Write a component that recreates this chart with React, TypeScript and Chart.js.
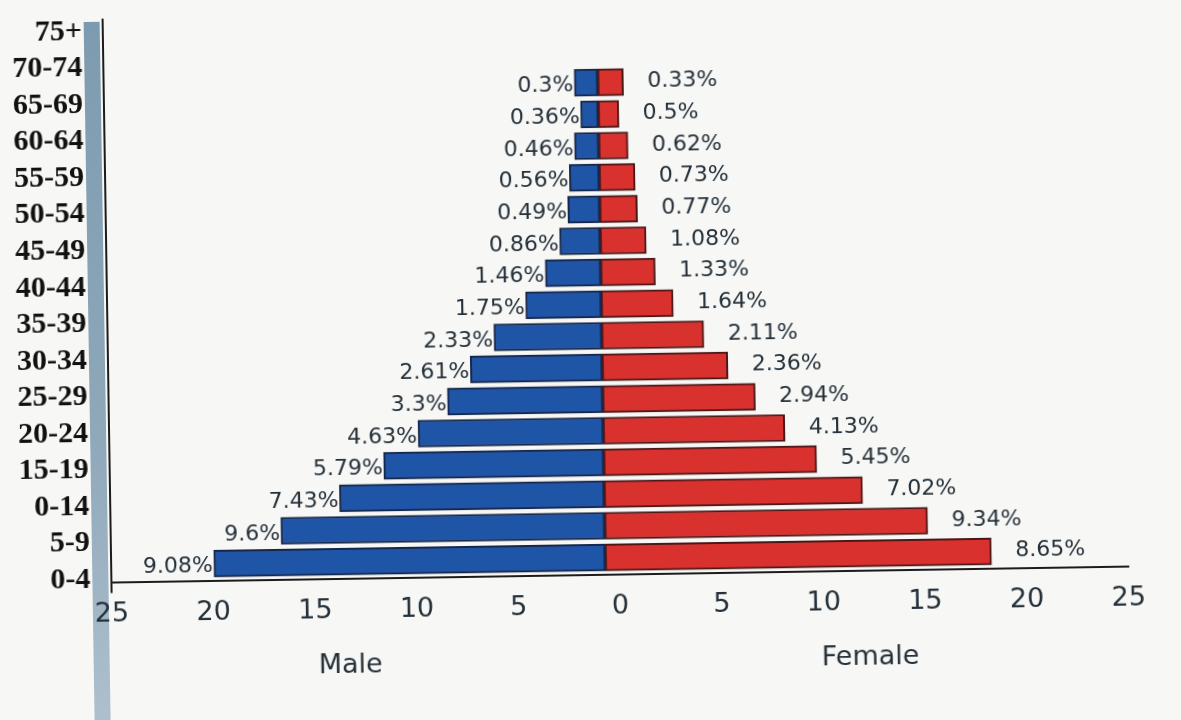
import React, { useEffect, useRef } from 'react';
import { Chart, registerables } from 'chart.js';

Chart.register(...registerables);

// Age groups, listed top to bottom as printed on the left axis
const AGE_GROUPS = ['75+', '70-74', '65-69', '60-64', '55-59', '50-54', '45-49', '40-44', '35-39', '30-34', '25-29', '20-24', '15-19', '0-14', '5-9', '0-4'];

// Bar lengths read against the printed axis (top row to bottom row)
const MALE_BARS = [1.15, 0.86, 1.19, 1.46, 1.56, 1.99, 2.72, 3.71, 5.29, 6.48, 7.63, 9.1, 10.81, 13.01, 15.91, 19.24];
const FEMALE_BARS = [1.26, 1.01, 1.44, 1.76, 1.85, 2.26, 2.68, 3.54, 5.02, 6.18, 7.5, 8.93, 10.47, 12.7, 15.88, 18.99];

// Percent labels printed next to the bars (top row to bottom row)
const MALE_LABELS = ['0.3%', '0.36%', '0.46%', '0.56%', '0.49%', '0.86%', '1.46%', '1.75%', '2.33%', '2.61%', '3.3%', '4.63%', '5.79%', '7.43%', '9.6%', '9.08%'];
const FEMALE_LABELS = ['0.33%', '0.5%', '0.62%', '0.73%', '0.77%', '1.08%', '1.33%', '1.64%', '2.11%', '2.36%', '2.94%', '4.13%', '5.45%', '7.02%', '9.34%', '8.65%'];

// Horizontal axis ticks
const X_TICKS = [-25, -20, -15, -10, -5, 0, 5, 10, 15, 20, 25];

// Sex captions and where they sit on the horizontal scale
const SEX_LABELS = ['Male', 'Female'];
const SEX_POS = [-13.3, 12.26];

const N = AGE_GROUPS.length;
const TEXT = '#25313a';
const LINE = '#1c1c1c';

const valueLabels = {
  id: 'valueLabels',
  afterDatasetsDraw(chart: any) {
    const ctx = chart.ctx;
    ctx.save();
    ctx.font = '22px "DejaVu Sans"';
    ctx.fillStyle = TEXT;
    ctx.textBaseline = 'middle';
    chart.data.datasets.forEach((_ds: any, di: number) => {
      const meta = chart.getDatasetMeta(di);
      const texts = di === 0 ? MALE_LABELS : FEMALE_LABELS;
      meta.data.forEach((el: any, i: number) => {
        const { x, y } = el.getProps(['x', 'y'], true);
        if (di === 0) {
          ctx.textAlign = 'right';
          ctx.fillText(texts[i], x - 1, y + 3);
        } else {
          ctx.textAlign = 'left';
          ctx.fillText(texts[i], x + 24, y);
        }
      });
    });
    ctx.restore();
  },
};

const noEdgePad = (s: any) => {
  s.paddingTop = 0;
  s.paddingBottom = 0;
  s.paddingLeft = 0;
  s.paddingRight = 0;
};

export default function App() {
  const canvasRef = useRef<HTMLCanvasElement | null>(null);

  useEffect(() => {
    if (!canvasRef.current) return;
    const chart = new Chart(canvasRef.current, {
      type: 'bar',
      data: {
        datasets: [
          {
            label: 'Male',
            data: MALE_BARS.map((v, i) => ({ x: -v, y: N - 1 - i })),
            xAxisID: 'x',
            yAxisID: 'y',
            backgroundColor: '#1f55a6',
            borderColor: '#17264a',
            borderWidth: 2,
            borderSkipped: false,
            barThickness: 27,
            grouped: false,
          } as any,
          {
            label: 'Female',
            data: FEMALE_BARS.map((v, i) => ({ x: v, y: N - 1 - i })),
            xAxisID: 'x',
            yAxisID: 'y',
            backgroundColor: '#d9312e',
            borderColor: '#4a1818',
            borderWidth: 2,
            borderSkipped: false,
            barThickness: 27,
            grouped: false,
          } as any,
        ],
      },
      options: {
        indexAxis: 'y',
        responsive: false,
        animation: false,
        layout: { padding: { top: 12, right: 56, left: 0, bottom: 0 } },
        plugins: { legend: { display: false }, tooltip: { enabled: false } },
        scales: {
          x: { type: 'linear', display: false, min: -24.29, max: 25.71, offset: false },
          y: { type: 'linear', display: false, min: -0.53, max: 17.23, offset: false, grid: { offset: false } },
          xt: {
            type: 'linear',
            axis: 'x',
            position: 'bottom',
            weight: 0,
            offset: false,
            min: -25,
            max: 25,
            afterBuildTicks: (s: any) => {
              s.ticks = X_TICKS.map((v) => ({ value: v }));
            },
            afterFit: (s: any) => {
              s.height = 60;
              noEdgePad(s);
            },
            ticks: {
              callback: (v: any) => String(Math.abs(Number(v))),
              font: { family: '"DejaVu Sans"', size: 27 },
              color: TEXT,
              padding: 5,
              maxRotation: 0,
              autoSkip: false,
            },
            grid: {
              display: true,
              offset: false,
              drawOnChartArea: false,
              drawTicks: true,
              tickLength: 11,
              lineWidth: 2,
              color: (c: any) => (c.index === 0 ? LINE : 'rgba(0,0,0,0)'),
            },
            border: { display: true, color: LINE, width: 2 },
          },
          xg: {
            type: 'linear',
            axis: 'x',
            position: 'bottom',
            weight: 1,
            offset: false,
            min: -25,
            max: 25,
            afterBuildTicks: (s: any) => {
              s.ticks = SEX_POS.map((v) => ({ value: v }));
            },
            afterFit: (s: any) => {
              s.height = 85.5;
              noEdgePad(s);
            },
            ticks: {
              callback: (_v: any, i: number) => SEX_LABELS[i],
              font: { family: '"DejaVu Sans"', size: 27 },
              color: TEXT,
              padding: 3,
              maxRotation: 0,
              autoSkip: false,
            },
            grid: { display: false },
            border: { display: false },
          },
          yl: {
            type: 'linear',
            axis: 'y',
            position: 'left',
            offset: false,
            min: -0.068,
            max: 15.33,
            afterBuildTicks: (s: any) => {
              s.ticks = AGE_GROUPS.map((_g, i) => ({ value: i }));
            },
            afterFit: (s: any) => {
              s.width = 108;
              noEdgePad(s);
            },
            ticks: {
              callback: (v: any) => AGE_GROUPS[N - 1 - Number(v)],
              font: { family: '"Liberation Serif", "Times New Roman", serif', size: 30, weight: 'bold' },
              color: '#111111',
              padding: 21,
              autoSkip: false,
            },
            grid: { display: true, offset: false, drawOnChartArea: false, drawTicks: false, color: 'rgba(0,0,0,0)' },
            border: { display: true, color: LINE, width: 2 },
          },
        } as any,
      },
      plugins: [valueLabels],
    });
    return () => chart.destroy();
  }, []);

  return (
    <div style={{ position: 'fixed', left: 0, top: 0, width: 1181, height: 720, overflow: 'hidden', background: '#f7f7f5' }}>
      <div
        style={{
          position: 'absolute',
          left: 0,
          top: 0,
          width: 1181,
          height: 720,
          transform: 'rotate(-0.9deg)',
          transformOrigin: '590px 360px',
        }}
      >
        <div
          style={{
            position: 'absolute',
            left: 89,
            top: 14,
            width: 16,
            height: 760,
            background: 'linear-gradient(to bottom, #7d9bb0, #8fa8ba 55%, #b5c5d0)',
          }}
        />
        <canvas
          ref={canvasRef}
          width={1181}
          height={720}
          style={{ position: 'absolute', left: 0, top: 0, width: 1181, height: 720, display: 'block' }}
        />
      </div>
    </div>
  );
}
